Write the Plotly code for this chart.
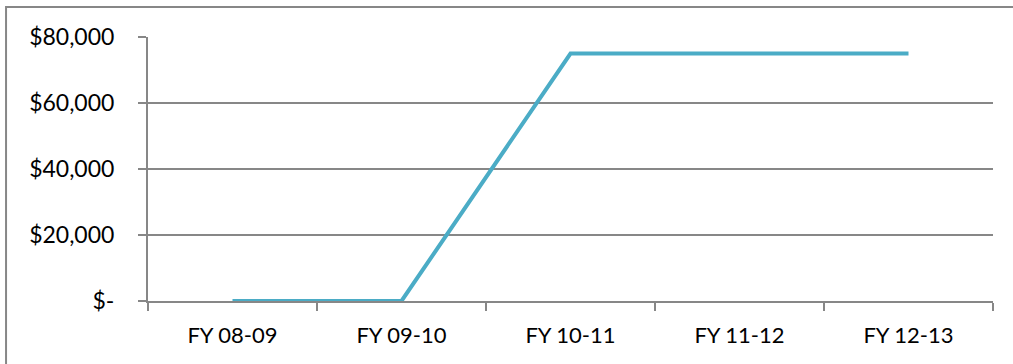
import plotly.graph_objects as go

# Funding by fiscal year
categories = ["FY 08-09", "FY 09-10", "FY 10-11", "FY 11-12", "FY 12-13"]
values = [0, 0, 75000, 75000, 75000]

y_ticks = [0, 20000, 40000, 60000, 80000]
y_tick_labels = ["$-", "$20,000", "$40,000", "$60,000", "$80,000"]

GRID = "#878787"
LINE = "#4BACC6"
FONT = "Lato, 'Open Sans', sans-serif"

fig = go.Figure(
    go.Scatter(
        x=categories,
        y=values,
        mode="lines",
        line=dict(color=LINE, width=4),
        hoverinfo="skip",
    )
)

fig.update_layout(
    width=1013,
    height=364,
    margin=dict(l=148, r=20, t=37, b=63),
    paper_bgcolor="white",
    plot_bgcolor="white",
    showlegend=False,
    font=dict(family=FONT, color="#000000"),
    shapes=[
        # outer chart frame (left and top edges visible)
        dict(
            type="rect", xref="paper", yref="paper",
            x0=-0.168, x1=1.2, y0=-0.6, y1=1.1136,
            line=dict(color=GRID, width=2), layer="below",
        )
    ],
)

fig.update_xaxes(
    type="category",
    tickson="boundaries",
    ticks="outside",
    ticklen=8,
    tickcolor=GRID,
    tickwidth=2,
    showline=True,
    linecolor=GRID,
    linewidth=2,
    showgrid=False,
    tickfont=dict(size=22, family=FONT),
    ticklabelstandoff=14,
    range=[-0.5, 4.5],
    fixedrange=True,
)

fig.update_yaxes(
    range=[0, 80000],
    tickvals=y_ticks,
    ticktext=y_tick_labels,
    ticks="outside",
    ticklen=8,
    tickcolor=GRID,
    tickwidth=2,
    showline=True,
    linecolor=GRID,
    linewidth=2,
    showgrid=True,
    gridcolor=GRID,
    gridwidth=2,
    zeroline=False,
    tickfont=dict(size=23, family=FONT),
    ticklabelstandoff=19,
    fixedrange=True,
)

fig.write_html("out.html")
